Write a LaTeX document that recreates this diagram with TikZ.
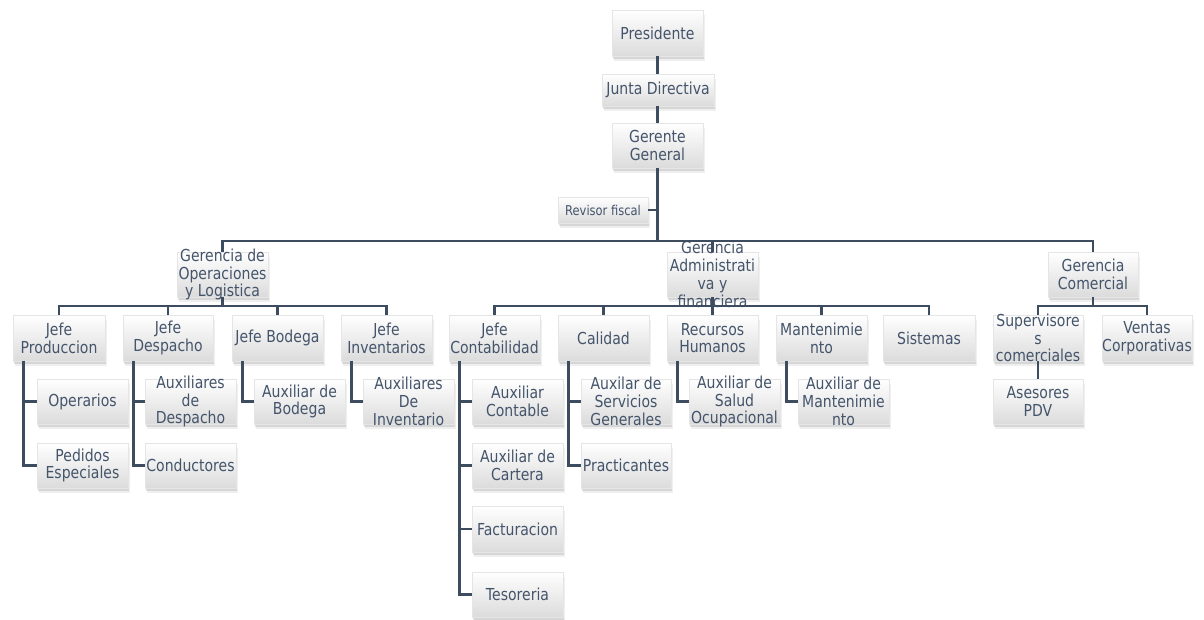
\documentclass[tikz,border=0pt]{standalone}
\usepackage{fontspec}
\setmainfont{DejaVu Sans}[FakeStretch=0.85]
\usetikzlibrary{shadows}
\definecolor{textc}{HTML}{44546A}
\definecolor{linec}{HTML}{3D4C5F}
\tikzset{
  boxst/.style={inner sep=0pt, top color=white, bottom color=black!14,
    draw=black!10, line width=0.5pt,
    drop shadow={opacity=0.12, shadow xshift=1.5pt, shadow yshift=-5pt},
    drop shadow={opacity=0.22, shadow xshift=1pt, shadow yshift=-3pt}},
  txtst/.style={inner sep=0pt, align=center, text=textc,
    font=\fontsize{16.5}{17.8}\selectfont},
  smalltxt/.style={font=\fontsize{13.5}{15}\selectfont},
  conn/.style={draw=linec, line width=2.7pt}
}
\newcommand\bx[7][]{%
  \node[boxst, minimum width={#5-#3}, minimum height={#6-#4}] (#2) at ({(#3+#5)/2},{(#4+#6)/2}) {};
  \node[txtst,#1] (#2t) at (#2.center) {#7};
}
\begin{document}
\begin{tikzpicture}[x=1pt,y=-1pt]
\useasboundingbox (0,0) rectangle (1204,619);
\fill[white] (0,0) rectangle (1204,619);
% boxes
\bx{pres}{612}{10}{703}{56}{Presidente}
\bx{junta}{602}{74}{714}{106}{Junta Directiva}
\bx{gg}{612}{123}{703}{168}{Gerente\\General}
\bx[smalltxt]{rev}{558}{197}{648}{223}{Revisor fiscal}
\bx{gol}{177}{252}{268}{297}{Gerencia de\\Operaciones\\y Logistica}
\bx{gad}{667}{252}{758}{297}{Gerencia\\Administrati\\va y\\financiera}
\bx{gco}{1048}{252}{1138}{297}{Gerencia\\Comercial}
\bx{jp}{13}{315}{105}{361}{Jefe\\Produccion}
\bx{jd}{123}{315}{213}{361}{Jefe\\Despacho}
\bx{jb}{232}{315}{323}{361}{Jefe Bodega}
\bx{ji}{341}{315}{432}{361}{Jefe\\Inventarios}
\bx{op}{37}{379}{128}{424}{Operarios}
\bx{pe}{37}{443}{128}{488}{Pedidos\\Especiales}
\bx{ad}{145}{379}{236}{424}{Auxiliares\\de\\Despacho}
\bx{co}{145}{443}{236}{488}{Conductores}
\bx{ab}{254}{379}{345}{424}{Auxiliar de\\Bodega}
\bx{ai}{363}{379}{454}{424}{Auxiliares\\De\\Inventario}
\bx{jc}{449}{315}{540}{361}{Jefe\\Contabilidad}
\bx{ca}{558}{315}{649}{361}{Calidad}
\bx{rh}{667}{315}{758}{361}{Recursos\\Humanos}
\bx{ma}{776}{315}{867}{361}{Mantenimie\\nto}
\bx{si}{883}{315}{975}{361}{Sistemas}
\bx{ac}{472}{379}{563}{424}{Auxiliar\\Contable}
\bx{acr}{472}{443}{563}{488}{Auxiliar de\\Cartera}
\bx{fa}{472}{506}{563}{552}{Facturacion}
\bx{te}{472}{572}{563}{617}{Tesoreria}
\bx{as}{581}{379}{671}{424}{Auxilar de\\Servicios\\Generales}
\bx{pr}{581}{443}{671}{488}{Practicantes}
\bx{aso}{689}{379}{780}{424}{Auxiliar de\\Salud\\Ocupacional}
\bx{am}{798}{379}{889}{424}{Auxiliar de\\Mantenimie\\nto}
\bx{sc}{993}{315}{1083}{361}{Supervisore\\s\\comerciales}
\bx{vc}{1102}{315}{1192}{361}{Ventas\\Corporativas}
\bx{ap}{993}{379}{1083}{424}{Asesores\\PDV}
% bars
\coordinate (mainbar) at (0,241);
\coordinate (subbar) at (0,306);
% top chain
\draw[conn] (pres.south) -- (pres.south |- junta.north);
\draw[conn] (junta.south -| pres.south) -- (pres.south |- gg.north);
\draw[conn] (gg.south) -- (gg.south |- mainbar);
\draw[conn] (rev.east) -- (rev.east -| gg.south);
\draw[conn] (gol.north) |- (gco.north |- mainbar) -- (gco.north);
\draw[conn] (gad.north) -- (gad.north |- mainbar);
% operations
\draw[conn] (gol.south) -- (gol.south |- subbar);
\draw[conn] (jp.north) |- (ji.north |- subbar) -- (ji.north);
\draw[conn] (jd.north) -- (jd.north |- subbar);
\draw[conn] (jb.north) -- (jb.north |- subbar);
\draw[conn] ([xshift=10.5pt]jp.south west) |- (op.west);
\draw[conn] ([xshift=10.5pt]jp.south west) |- (pe.west);
\draw[conn] ([xshift=10.5pt]jd.south west) |- (ad.west);
\draw[conn] ([xshift=10.5pt]jd.south west) |- (co.west);
\draw[conn] ([xshift=10.5pt]jb.south west) |- (ab.west);
\draw[conn] ([xshift=10.5pt]ji.south west) |- (ai.west);
% administration
\draw[conn] (gad.south) -- (gad.south |- subbar);
\draw[conn] (jc.north) |- (si.north |- subbar) -- (si.north);
\draw[conn] (ca.north) -- (ca.north |- subbar);
\draw[conn] (rh.north) -- (rh.north |- subbar);
\draw[conn] (ma.north) -- (ma.north |- subbar);
\draw[conn] ([xshift=10.5pt]jc.south west) |- (ac.west);
\draw[conn] ([xshift=10.5pt]jc.south west) |- (acr.west);
\draw[conn] ([xshift=10.5pt]jc.south west) |- (fa.west);
\draw[conn] ([xshift=10.5pt]jc.south west) |- (te.west);
\draw[conn] ([xshift=10.5pt]ca.south west) |- (as.west);
\draw[conn] ([xshift=10.5pt]ca.south west) |- (pr.west);
\draw[conn] ([xshift=10.5pt]rh.south west) |- (aso.west);
\draw[conn] ([xshift=10.5pt]ma.south west) |- (am.west);
% commercial
\draw[conn] (gco.south) -- (gco.south |- subbar);
\draw[conn] (sc.north) |- (vc.north |- subbar) -- (vc.north);
\draw[conn] (sc.south) -- (ap.north);
\end{tikzpicture}
\end{document}
